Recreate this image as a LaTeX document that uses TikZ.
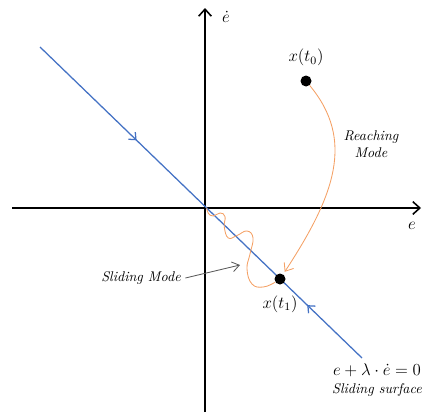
\documentclass[tikz,border=0pt]{standalone}
\usetikzlibrary{arrows.meta,decorations.markings,positioning}
\definecolor{surfblue}{RGB}{68,114,196}
\definecolor{reachorange}{RGB}{244,160,100}
\definecolor{pointergray}{RGB}{89,89,89}
\tikzset{
	axis/.style={line width=1.1pt,-{Straight Barb[length=5pt,width=9pt]}},
	state/.style={circle,fill=black,inner sep=0pt,minimum size=11*0.025cm},
	surface/.style={surfblue,line width=0.9pt,postaction={decorate},
		decoration={markings,
			mark=at position 0.3 with {\arrow{Straight Barb[length=4pt,width=7pt]}},
			mark=at position 0.83 with {\arrowreversed{Straight Barb[length=4pt,width=7pt]}}}},
	reach/.style={reachorange,line width=0.6pt,-{Straight Barb[length=5pt,width=8pt]}},
	pointer/.style={pointergray,line width=0.6pt,-{Straight Barb[length=5pt,width=7pt]}},
	modelabel/.style={font=\itshape,align=center,inner sep=1pt}
}
\begin{document}
\begin{tikzpicture}[x=0.025cm,y=-0.025cm,font=\fontsize{11.5}{13}\selectfont]
		\useasboundingbox (0,0) rectangle (423,414);
		% axes
		\coordinate (o) at (205,208);
		\draw[axis] (12,208) -- (421,208);
		\draw[axis] (205,412) -- (205,8);
		\node[inner sep=0.5pt] (elabel) at (412,226) {$e$};
		\node[inner sep=0.5pt] (edlabel) at (226,17) {$\dot e$};
		% sliding surface
		\coordinate (s1) at (40,47);
		\coordinate (s2) at (362,358);
		\draw[surface] (s1) -- (s2);
		\node[inner sep=0.5pt] (eq) at (377,370) {$e+\lambda\cdot\dot e=0$};
		\node[modelabel,inner sep=0.5pt] (surf) at (377,390) {Sliding surface};
		% states
		\node[state] (t0) at (306,81) {};
		\node[state] (t1) at (280,279) {};
		\node[above=3pt of t0] (t0label) {$x(t_0)$};
		\node[below=4pt of t1] (t1label) {$x(t_1)$};
		% reaching phase
		\draw[reach,shorten >=2pt] (t0) .. controls (355,140) and (335,195) .. (t1);
		\node[modelabel] (reaching) at (371,144) {Reaching\\Mode};
		% sliding phase
		\draw[reachorange,line width=0.6pt] plot[smooth,tension=0.75] coordinates {(206.7,207.7) (208.3,213.3) (213.3,216) (220,213) (225,216.5) (224.3,227) (228.3,238) (237,235.5) (247,231) (253,238) (250,254) (247,269) (252,284) (263.3,287) (275,282.3)};
		\node[modelabel] (sliding) at (141,278) {Sliding Mode};
		\coordinate (wiggle) at (240,265);
		\draw[pointer] (sliding.east) ++(3,0) -- (wiggle);
	\end{tikzpicture}
\end{document}
